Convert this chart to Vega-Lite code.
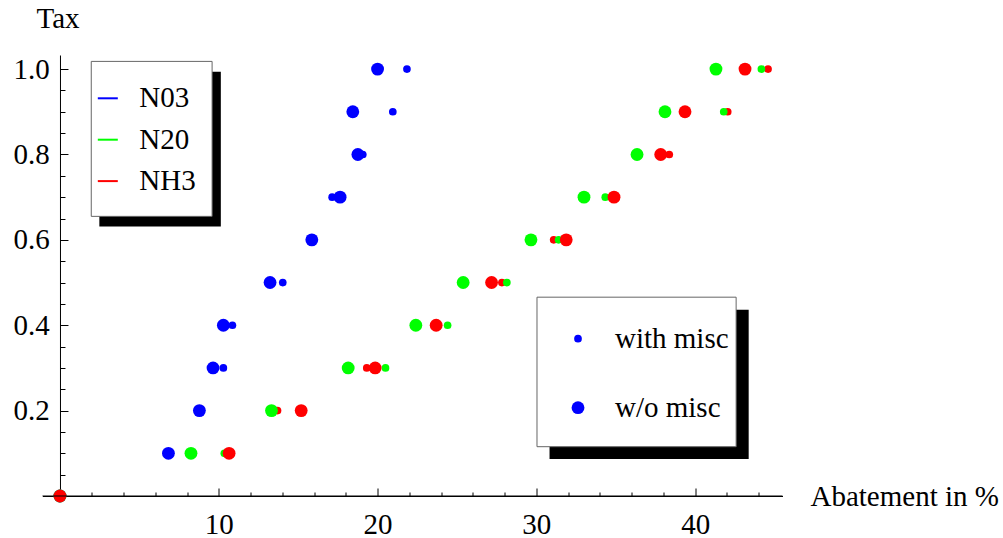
{
  "$schema": "https://vega.github.io/schema/vega-lite/v6.json",
  "width": 740,
  "height": 441,
  "autosize": {"type": "none"},
  "padding": {"left": 42.5, "top": 55, "right": 220.5, "bottom": 42},
  "background": "white",
  "config": {
    "view": {"stroke": null},
    "font": "Liberation Serif",
    "axis": {
      "grid": false,
      "domainColor": "black",
      "domainWidth": 1,
      "tickColor": "black",
      "tickWidth": 1,
      "labelColor": "black",
      "titleColor": "black",
      "labelFont": "Liberation Serif",
      "labelFontSize": 29,
      "titleFont": "Liberation Serif",
      "titleFontSize": 29,
      "titleFontWeight": "normal",
      "labelFlush": false,
      "labelOverlap": false
    },
    "legend": {
      "labelFont": "Liberation Serif",
      "labelFontSize": 29,
      "labelColor": "black"
    }
  },
  "resolve": {"axis": {"x": "independent", "y": "independent"}},
  "layer": [
    {
      "data": {
        "values": [
          {"series": "N03", "misc": "with misc", "x": 0, "y": 0},
          {"series": "N03", "misc": "with misc", "x": 6.83, "y": 0.1},
          {"series": "N03", "misc": "with misc", "x": 8.78, "y": 0.2},
          {"series": "N03", "misc": "with misc", "x": 10.29, "y": 0.3},
          {"series": "N03", "misc": "with misc", "x": 10.86, "y": 0.4},
          {"series": "N03", "misc": "with misc", "x": 14.03, "y": 0.5},
          {"series": "N03", "misc": "with misc", "x": 15.86, "y": 0.6},
          {"series": "N03", "misc": "with misc", "x": 17.14, "y": 0.7},
          {"series": "N03", "misc": "with misc", "x": 19.07, "y": 0.8},
          {"series": "N03", "misc": "with misc", "x": 20.96, "y": 0.9},
          {"series": "N03", "misc": "with misc", "x": 21.85, "y": 1.0},
          {"series": "NH3", "misc": "with misc", "x": 0, "y": 0},
          {"series": "NH3", "misc": "with misc", "x": 10.65, "y": 0.1},
          {"series": "NH3", "misc": "with misc", "x": 13.7, "y": 0.2},
          {"series": "NH3", "misc": "with misc", "x": 19.32, "y": 0.3},
          {"series": "NH3", "misc": "with misc", "x": 23.69, "y": 0.4},
          {"series": "NH3", "misc": "with misc", "x": 27.83, "y": 0.5},
          {"series": "NH3", "misc": "with misc", "x": 31.09, "y": 0.6},
          {"series": "NH3", "misc": "with misc", "x": 34.89, "y": 0.7},
          {"series": "NH3", "misc": "with misc", "x": 38.37, "y": 0.8},
          {"series": "NH3", "misc": "with misc", "x": 42.05, "y": 0.9},
          {"series": "NH3", "misc": "with misc", "x": 44.59, "y": 1.0},
          {"series": "N20", "misc": "with misc", "x": 0, "y": 0},
          {"series": "N20", "misc": "with misc", "x": 10.35, "y": 0.1},
          {"series": "N20", "misc": "with misc", "x": 13.3, "y": 0.2},
          {"series": "N20", "misc": "with misc", "x": 20.5, "y": 0.3},
          {"series": "N20", "misc": "with misc", "x": 24.41, "y": 0.4},
          {"series": "N20", "misc": "with misc", "x": 28.14, "y": 0.5},
          {"series": "N20", "misc": "with misc", "x": 31.4, "y": 0.6},
          {"series": "N20", "misc": "with misc", "x": 34.34, "y": 0.7},
          {"series": "N20", "misc": "with misc", "x": 37.9, "y": 0.8},
          {"series": "N20", "misc": "with misc", "x": 41.8, "y": 0.9},
          {"series": "N20", "misc": "with misc", "x": 44.17, "y": 1.0},
          {"series": "N03", "misc": "w/o misc", "x": 0, "y": 0},
          {"series": "N03", "misc": "w/o misc", "x": 6.83, "y": 0.1},
          {"series": "N03", "misc": "w/o misc", "x": 8.78, "y": 0.2},
          {"series": "N03", "misc": "w/o misc", "x": 9.64, "y": 0.3},
          {"series": "N03", "misc": "w/o misc", "x": 10.29, "y": 0.4},
          {"series": "N03", "misc": "w/o misc", "x": 13.23, "y": 0.5},
          {"series": "N03", "misc": "w/o misc", "x": 15.86, "y": 0.6},
          {"series": "N03", "misc": "w/o misc", "x": 17.64, "y": 0.7},
          {"series": "N03", "misc": "w/o misc", "x": 18.76, "y": 0.8},
          {"series": "N03", "misc": "w/o misc", "x": 18.44, "y": 0.9},
          {"series": "N03", "misc": "w/o misc", "x": 20.0, "y": 1.0},
          {"series": "N20", "misc": "w/o misc", "x": 0, "y": 0},
          {"series": "N20", "misc": "w/o misc", "x": 8.25, "y": 0.1},
          {"series": "N20", "misc": "w/o misc", "x": 13.32, "y": 0.2},
          {"series": "N20", "misc": "w/o misc", "x": 18.15, "y": 0.3},
          {"series": "N20", "misc": "w/o misc", "x": 22.41, "y": 0.4},
          {"series": "N20", "misc": "w/o misc", "x": 25.39, "y": 0.5},
          {"series": "N20", "misc": "w/o misc", "x": 29.66, "y": 0.6},
          {"series": "N20", "misc": "w/o misc", "x": 33.0, "y": 0.7},
          {"series": "N20", "misc": "w/o misc", "x": 36.34, "y": 0.8},
          {"series": "N20", "misc": "w/o misc", "x": 38.1, "y": 0.9},
          {"series": "N20", "misc": "w/o misc", "x": 41.31, "y": 1.0},
          {"series": "NH3", "misc": "w/o misc", "x": 0, "y": 0},
          {"series": "NH3", "misc": "w/o misc", "x": 10.65, "y": 0.1},
          {"series": "NH3", "misc": "w/o misc", "x": 15.19, "y": 0.2},
          {"series": "NH3", "misc": "w/o misc", "x": 19.85, "y": 0.3},
          {"series": "NH3", "misc": "w/o misc", "x": 23.69, "y": 0.4},
          {"series": "NH3", "misc": "w/o misc", "x": 27.18, "y": 0.5},
          {"series": "NH3", "misc": "w/o misc", "x": 31.88, "y": 0.6},
          {"series": "NH3", "misc": "w/o misc", "x": 34.89, "y": 0.7},
          {"series": "NH3", "misc": "w/o misc", "x": 37.83, "y": 0.8},
          {"series": "NH3", "misc": "w/o misc", "x": 39.36, "y": 0.9},
          {"series": "NH3", "misc": "w/o misc", "x": 43.14, "y": 1.0}
        ]
      },
      "mark": {"type": "circle", "opacity": 1},
      "encoding": {
        "x": {
          "field": "x",
          "type": "quantitative",
          "scale": {"domain": [-1.1, 45.5], "nice": false, "zero": false},
          "axis": {
            "orient": "bottom",
            "values": [10, 20, 30, 40],
            "format": "d",
            "tickSize": -8,
            "labelPadding": 45,
            "labelBaseline": "alphabetic",
            "domain": true,
            "title": "Abatement in %",
            "titleX": 767.5,
            "titleY": 9,
            "titleAlign": "left",
            "titleBaseline": "alphabetic",
            "titleAnchor": "start"
          }
        },
        "y": {
          "field": "y",
          "type": "quantitative",
          "scale": {"domain": [0, 1.033], "nice": false, "zero": false},
          "axis": {
            "orient": "left",
            "values": [0.2, 0.4, 0.6, 0.8, 1.0],
            "format": ".1f",
            "tickSize": -8,
            "labelPadding": 18.7,
            "offset": -17.47,
            "domain": true,
            "title": "Tax",
            "titleAngle": 0,
            "titleX": -24,
            "titleY": -27.7,
            "titleAlign": "left",
            "titleBaseline": "alphabetic"
          }
        },
        "color": {
          "field": "series",
          "type": "nominal",
          "scale": {"domain": ["N03", "N20", "NH3"], "range": ["#0000ff", "#00ff00", "#ff0000"]},
          "legend": {
            "orient": "none",
            "legendX": 50.8,
            "legendY": 28.8,
            "title": null,
            "padding": 0,
            "symbolType": "M-1,-0.1H1V0.1H-1Z",
            "symbolSize": 400,
            "symbolStrokeWidth": 0,
            "symbolOpacity": 1,
            "labelOffset": 17,
            "rowPadding": 11.4
          }
        },
        "size": {
          "field": "misc",
          "type": "ordinal",
          "scale": {"domain": ["with misc", "w/o misc"], "range": [59, 165]},
          "legend": {
            "orient": "none",
            "legendX": 521,
            "legendY": 269.2,
            "title": null,
            "padding": 0,
            "symbolType": "circle",
            "symbolFillColor": "#0000ff",
            "symbolStrokeWidth": 0,
            "symbolOpacity": 1,
            "labelOffset": 22.5,
            "rowPadding": 39
          }
        }
      }
    },
    {
      "data": {"values": [{}]},
      "mark": {"type": "rule", "color": "black", "strokeWidth": 1},
      "encoding": {
        "x": {
          "datum": -1.1,
          "axis": {
            "orient": "bottom",
            "values": [2, 4, 6, 8, 12, 14, 16, 18, 22, 24, 26, 28, 32, 34, 36, 38, 42, 44],
            "tickSize": -4,
            "labels": false,
            "domain": false,
            "title": null
          }
        },
        "x2": {"datum": 45.5},
        "y": {
          "datum": 0,
          "axis": {
            "orient": "left",
            "values": [0.05, 0.1, 0.15, 0.25, 0.3, 0.35, 0.45, 0.5, 0.55, 0.65, 0.7, 0.75, 0.85, 0.9, 0.95],
            "tickSize": -5,
            "offset": -17.47,
            "labels": false,
            "domain": false,
            "title": null
          }
        }
      }
    },
    {
      "data": {"values": [{}]},
      "mark": {"type": "rect", "color": "black"},
      "encoding": {"x": {"datum": 2.48, "axis": null}, "x2": {"datum": 10.13}, "y": {"datum": 0.994, "axis": null}, "y2": {"datum": 0.631}}
    },
    {
      "data": {"values": [{}]},
      "mark": {"type": "rect", "color": "black"},
      "encoding": {"x": {"datum": 30.83, "axis": null}, "x2": {"datum": 43.37}, "y": {"datum": 0.436, "axis": null}, "y2": {"datum": 0.0867}}
    },
    {
      "data": {"values": [{}]},
      "mark": {"type": "rect", "fill": "white", "stroke": "#666666", "strokeWidth": 1},
      "encoding": {"x": {"datum": 1.97, "axis": null}, "x2": {"datum": 9.58}, "y": {"datum": 1.018, "axis": null}, "y2": {"datum": 0.655}}
    },
    {
      "data": {"values": [{}]},
      "mark": {"type": "rect", "fill": "white", "stroke": "#666666", "strokeWidth": 1},
      "encoding": {"x": {"datum": 30.04, "axis": null}, "x2": {"datum": 42.58}, "y": {"datum": 0.4657, "axis": null}, "y2": {"datum": 0.1155}}
    }
  ]
}
